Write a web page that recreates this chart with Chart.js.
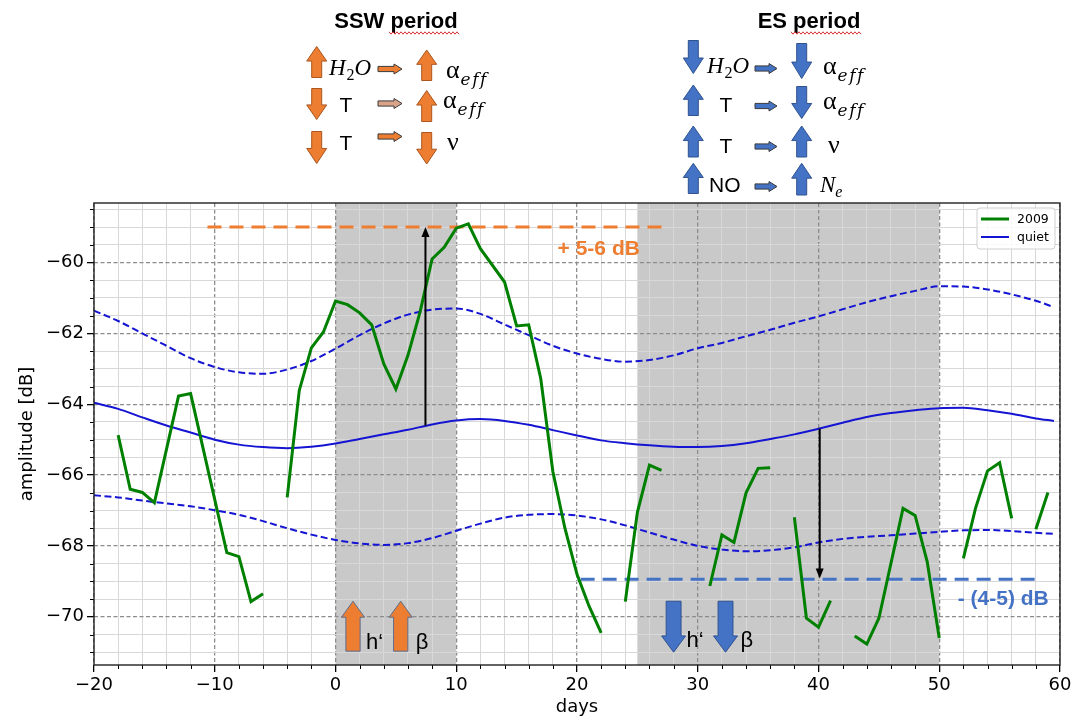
<!DOCTYPE html>
<html>
<head>
<meta charset="utf-8">
<script src="https://cdn.jsdelivr.net/npm/chart.js@4.4.1/dist/chart.umd.min.js"></script>
<style>
  html, body { margin: 0; padding: 0; background: #fff; }
</style>
</head>
<body>
<canvas id="chart" width="1087" height="717"></canvas>
<script>
// 2009 amplitudes per day (null = no data, line breaks there)
const days2009 = [-18, -17, -16, -15, -13, -12, -9, -8, -7, -6, -5,
  -4, -3, -2, -1, 0, 1, 2, 3, 4, 5, 6, 7, 8, 9, 10, 11, 12, 14, 15, 16, 17, 18, 19, 20, 21, 22, 23,
  24, 25, 26, 27, 28,
  31, 32, 33, 34, 35, 36, 37,
  38, 39, 40, 41, 42,
  43, 44, 45, 47, 48, 49, 50, 51,
  52, 53, 54, 55, 56, 57,
  58, 59];
const amp2009 = [-64.87, -66.40, -66.49, -66.78, -63.77, -63.70, -68.19, -68.30, -69.57, -69.35, null,
  -66.63, -63.61, -62.41, -61.96, -61.09, -61.19, -61.42, -61.76, -62.86, -63.57, -62.62, -61.40, -59.90, -59.57, -59.03, -58.91, -59.61, -60.55, -61.79, -61.76, -63.28, -65.90, -67.50, -68.80, -69.70, -70.45, null,
  -69.57, -67.05, -65.72, -65.87, null,
  -69.13, -67.69, -67.90, -66.50, -65.81, -65.79, null,
  -67.19, -70.04, -70.29, -69.54, null,
  -70.54, -70.77, -70.04, -66.94, -67.14, -68.44, -70.60, null,
  -68.35, -66.94, -65.88, -65.65, -67.22, null,
  -67.53, -66.49];

// quiet-day reference curve and its +/- spread
const quietDays = [-20, -18, -16, -14, -12, -10, -8, -6, -4, -2, 0, 2, 4, 6, 8, 10, 12, 14, 16, 18,
  20, 22, 24, 26, 28, 30, 32, 34, 36, 38, 40, 42, 44, 46, 48, 50, 52, 54, 56, 58, 59.5];
const quietMean = [-63.96, -64.13, -64.37, -64.60, -64.80, -65.00, -65.14, -65.21, -65.24, -65.20,
  -65.11, -64.98, -64.85, -64.72, -64.57, -64.46, -64.42, -64.47, -64.58, -64.73,
  -64.88, -65.02, -65.10, -65.16, -65.20, -65.21, -65.18, -65.10, -64.98, -64.85,
  -64.69, -64.52, -64.36, -64.25, -64.17, -64.11, -64.10, -64.17, -64.27, -64.40, -64.47];
const quietUpper = [-61.36, -61.65, -62.00, -62.35, -62.70, -62.95, -63.10, -63.14, -63.02, -62.78,
  -62.43, -62.05, -61.72, -61.47, -61.33, -61.30, -61.45, -61.75, -62.05, -62.35,
  -62.57, -62.72, -62.80, -62.75, -62.62, -62.42, -62.27, -62.08, -61.90, -61.70,
  -61.52, -61.32, -61.12, -60.95, -60.80, -60.67, -60.68, -60.76, -60.90, -61.08, -61.26];
const quietLower = [-66.57, -66.63, -66.72, -66.80, -66.88, -66.99, -67.12, -67.30, -67.50, -67.68,
  -67.83, -67.93, -67.97, -67.92, -67.78, -67.57, -67.37, -67.20, -67.12, -67.10,
  -67.14, -67.25, -67.42, -67.62, -67.82, -68.00, -68.10, -68.15, -68.12, -68.04,
  -67.90, -67.80, -67.74, -67.70, -67.65, -67.60, -67.56, -67.55, -67.58, -67.63, -67.66];

// shaded periods (days)
const sswSpan = [0, 10];
const esSpan = [25, 50];

// annotation levels
const sswLevelDays = [-10.6, 27.5];
const sswLevel = -59.0;
const esLevelDays = [20.3, 58.5];
const esLevel = -68.94;
const gainArrow = [7.45, -64.6, -59.0];   // day, from, to
const lossArrow = [40.1, -64.69, -68.92];
const sswMarkDays = [1.45, 5.4];
const esMarkDays = [28.0, 32.3];
const markRange = [-70.97, -69.56];
const sswText = ['+ 5-6 dB', 21.8, -59.63];
const esText = ['- (4-5) dB', 55.3, -69.5];

const xRange = [-20, 60];
const yRange = [-71.36, -58.32];

const ORANGE = '#ED7D31', ORANGE_EDGE = '#A9561F';
const BLUE = '#4472C4', BLUE_EDGE = '#2F528F';
const QUIET = '#1414d2';

const pts = (xs, ys) => xs.map((x, i) => ({x: x, y: ys[i]}));
const isMult = (v, m) => Math.abs(v / m - Math.round(v / m)) < 1e-6;
const fmt = v => String(Math.round(v)).replace('-', '\u2212');

function blockArrow(ctx, cx, tail, tip, w, shaft, head, fill, stroke) {
  const dir = Math.sign(tip - tail);
  const neck = tip - dir * Math.abs(tip - tail) * head;
  ctx.beginPath();
  ctx.moveTo(cx - w * shaft / 2, tail);
  ctx.lineTo(cx - w * shaft / 2, neck);
  ctx.lineTo(cx - w / 2, neck);
  ctx.lineTo(cx, tip);
  ctx.lineTo(cx + w / 2, neck);
  ctx.lineTo(cx + w * shaft / 2, neck);
  ctx.lineTo(cx + w * shaft / 2, tail);
  ctx.closePath();
  ctx.fillStyle = fill;
  ctx.fill();
  ctx.lineWidth = 1;
  ctx.strokeStyle = stroke;
  ctx.stroke();
}

function smallArrow(ctx, x0, x1, cy, fill) {
  const h = 2.6, hh = 5, hl = 8;
  ctx.beginPath();
  ctx.moveTo(x0, cy - h);
  ctx.lineTo(x1 - hl, cy - h);
  ctx.lineTo(x1 - hl, cy - hh);
  ctx.lineTo(x1, cy);
  ctx.lineTo(x1 - hl, cy + hh);
  ctx.lineTo(x1 - hl, cy + h);
  ctx.lineTo(x0, cy + h);
  ctx.closePath();
  ctx.fillStyle = fill;
  ctx.fill();
  ctx.lineWidth = 1;
  ctx.strokeStyle = '#3a3a3a';
  ctx.stroke();
}

function txt(ctx, s, x, y, font, color, align) {
  ctx.font = font;
  ctx.fillStyle = color || '#000';
  ctx.textAlign = align || 'left';
  ctx.textBaseline = 'alphabetic';
  ctx.fillText(s, x, y);
  return ctx.measureText(s).width;
}

function water(ctx, x, y) {
  let w = txt(ctx, 'H', x, y, 'italic 23px "Liberation Serif"');
  w += txt(ctx, '2', x + w + 1, y + 5, '16px "Liberation Serif"') + 1;
  txt(ctx, 'O', x + w, y, 'italic 23px "Liberation Serif"');
}

function alphaEff(ctx, x, y) {
  const w = txt(ctx, '\u03b1', x, y, '26px "Liberation Serif"');
  ctx.letterSpacing = '1.5px';
  txt(ctx, 'eff', x + w + 1, y + 7, 'italic 17px "DejaVu Serif"');
  ctx.letterSpacing = '0px';
}

function squiggle(ctx, x0, x1, y) {
  ctx.beginPath();
  for (let x = x0, k = 0; x <= x1; x += 2, k++) {
    const yy = y + (k % 2 ? 1.2 : -1.2);
    if (k === 0) ctx.moveTo(x, yy); else ctx.lineTo(x, yy);
  }
  ctx.lineWidth = 1;
  ctx.strokeStyle = '#d23030';
  ctx.stroke();
}

function drawHeader(ctx) {
  // SSW period
  txt(ctx, 'SSW period', 396, 28, 'bold 22px "Liberation Sans"', '#000', 'center');
  squiggle(ctx, 389, 460, 33);
  blockArrow(ctx, 316.7, 77.5, 46.5, 20, 0.5, 0.47, ORANGE, ORANGE_EDGE);
  water(ctx, 329, 75);
  smallArrow(ctx, 378, 402, 69, ORANGE);
  blockArrow(ctx, 426.7, 80.5, 50, 20, 0.5, 0.47, ORANGE, ORANGE_EDGE);
  alphaEff(ctx, 446, 78);

  blockArrow(ctx, 316.7, 88.5, 119.5, 20, 0.5, 0.47, ORANGE, ORANGE_EDGE);
  txt(ctx, 'T', 346, 111.5, '21px "Liberation Sans"', '#000', 'center');
  smallArrow(ctx, 378, 402, 103.5, '#D9A48A');
  blockArrow(ctx, 426.7, 121.5, 90.5, 20, 0.5, 0.47, ORANGE, ORANGE_EDGE);
  alphaEff(ctx, 443, 108);

  blockArrow(ctx, 316.7, 131.5, 163.5, 20, 0.5, 0.47, ORANGE, ORANGE_EDGE);
  txt(ctx, 'T', 346, 150, '21px "Liberation Sans"', '#000', 'center');
  smallArrow(ctx, 378, 402, 136.5, ORANGE);
  blockArrow(ctx, 426.7, 132.5, 164, 20, 0.5, 0.47, ORANGE, ORANGE_EDGE);
  txt(ctx, '\u03bd', 447, 150, '26px "Liberation Serif"');

  // ES period
  txt(ctx, 'ES period', 809, 28, 'bold 22px "Liberation Sans"', '#000', 'center');
  squiggle(ctx, 791, 861, 33);
  blockArrow(ctx, 693.3, 40.5, 73.5, 20, 0.5, 0.47, BLUE, BLUE_EDGE);
  water(ctx, 707, 73);
  smallArrow(ctx, 755, 777, 68.5, BLUE);
  blockArrow(ctx, 801.7, 43.5, 78.5, 20, 0.5, 0.47, BLUE, BLUE_EDGE);
  alphaEff(ctx, 823, 74);

  blockArrow(ctx, 693.3, 115.5, 85, 20, 0.5, 0.47, BLUE, BLUE_EDGE);
  txt(ctx, 'T', 726, 111.5, '21px "Liberation Sans"', '#000', 'center');
  smallArrow(ctx, 755, 777, 106, BLUE);
  blockArrow(ctx, 801.7, 86.5, 118.5, 20, 0.5, 0.47, BLUE, BLUE_EDGE);
  alphaEff(ctx, 823, 109);

  blockArrow(ctx, 693.3, 157, 126, 20, 0.5, 0.47, BLUE, BLUE_EDGE);
  txt(ctx, 'T', 726, 153, '21px "Liberation Sans"', '#000', 'center');
  smallArrow(ctx, 755, 777, 146.5, BLUE);
  blockArrow(ctx, 801.7, 157, 126, 20, 0.5, 0.47, BLUE, BLUE_EDGE);
  txt(ctx, '\u03bd', 828, 153, '26px "Liberation Serif"');

  blockArrow(ctx, 693.3, 193.5, 163.3, 20, 0.5, 0.47, BLUE, BLUE_EDGE);
  txt(ctx, 'NO', 709, 191.5, '21px "Liberation Sans"');
  smallArrow(ctx, 755, 777, 186.5, BLUE);
  blockArrow(ctx, 801.7, 195, 163.3, 20, 0.5, 0.47, BLUE, BLUE_EDGE);
  const w = txt(ctx, 'N', 820, 191.5, 'italic 23px "Liberation Serif"');
  txt(ctx, 'e', 820 + w, 196.5, 'italic 16px "Liberation Serif"');
}

const overlay = {
  id: 'overlay',
  beforeDraw(chart) {
    const {ctx, chartArea: a, scales: {x}} = chart;
    ctx.save();
    ctx.fillStyle = '#fff';
    ctx.fillRect(0, 0, chart.width, chart.height);
    ctx.fillStyle = '#c9c9c9';
    for (const s of [sswSpan, esSpan]) {
      const p0 = x.getPixelForValue(s[0]), p1 = x.getPixelForValue(s[1]);
      ctx.fillRect(p0, a.top, p1 - p0, a.bottom - a.top);
    }
    ctx.restore();
  },
  afterDatasetsDraw(chart) {
    const {ctx, scales: {x, y}} = chart;
    ctx.save();
    // black arrows from quiet level to the 2009 extremes
    for (const ar of [gainArrow, lossArrow]) {
      const px = x.getPixelForValue(ar[0]);
      const p0 = y.getPixelForValue(ar[1]), p1 = y.getPixelForValue(ar[2]);
      const dir = Math.sign(p1 - p0);
      ctx.beginPath();
      ctx.moveTo(px, p0);
      ctx.lineTo(px, p1 - dir * 8);
      ctx.lineWidth = 2;
      ctx.strokeStyle = '#000';
      ctx.stroke();
      ctx.beginPath();
      ctx.moveTo(px, p1);
      ctx.lineTo(px - 4, p1 - dir * 10);
      ctx.lineTo(px + 4, p1 - dir * 10);
      ctx.closePath();
      ctx.fillStyle = '#000';
      ctx.fill();
    }
    // dB labels
    ctx.textBaseline = 'middle';
    ctx.textAlign = 'center';
    ctx.font = 'bold 21px "Liberation Sans"';
    ctx.fillStyle = ORANGE;
    ctx.fillText(sswText[0], x.getPixelForValue(sswText[1]), y.getPixelForValue(sswText[2]));
    ctx.fillStyle = BLUE;
    ctx.fillText(esText[0], x.getPixelForValue(esText[1]), y.getPixelForValue(esText[2]));
    // h' and beta markers
    const lo = y.getPixelForValue(markRange[0]), hi = y.getPixelForValue(markRange[1]);
    const labels = ['h\u2018', '\u03b2'];
    sswMarkDays.forEach((d, i) => {
      const cx = x.getPixelForValue(d);
      blockArrow(ctx, cx, lo, hi, 23, 0.62, 0.32, ORANGE, '#5b6f8f');
      txt(ctx, labels[i], cx + (i ? 15 : 13), lo - 2, '22px "Liberation Sans"');
    });
    esMarkDays.forEach((d, i) => {
      const cx = x.getPixelForValue(d);
      blockArrow(ctx, cx, hi, lo + 1, 24, 0.62, 0.32, BLUE, BLUE_EDGE);
      txt(ctx, labels[i], cx + (i ? 15 : 13), lo - 4, '22px "Liberation Sans"');
    });
    ctx.restore();
  },
  afterDraw(chart) {
    const {ctx, chartArea: a, scales: {x, y}} = chart;
    ctx.save();
    // minor tick marks
    ctx.strokeStyle = '#000';
    ctx.lineWidth = 1;
    ctx.beginPath();
    for (const t of x.ticks) {
      if (isMult(t.value, 10)) continue;
      const px = Math.round(x.getPixelForValue(t.value)) + 0.5;
      ctx.moveTo(px, a.bottom);
      ctx.lineTo(px, a.bottom + 4);
    }
    for (const t of y.ticks) {
      if (isMult(t.value, 2)) continue;
      const py = Math.round(y.getPixelForValue(t.value)) + 0.5;
      ctx.moveTo(a.left, py);
      ctx.lineTo(a.left - 4, py);
    }
    ctx.stroke();
    // axes frame
    ctx.lineWidth = 1.4;
    ctx.strokeStyle = '#222';
    ctx.strokeRect(a.left, a.top, a.right - a.left, a.bottom - a.top);
    // legend
    const items = chart.data.datasets.filter(d => d.inLegend);
    const bx = a.right - 83, by = a.top + 5, bw = 78, bh = 41;
    ctx.fillStyle = 'rgba(255,255,255,0.85)';
    ctx.strokeStyle = '#cfcfcf';
    ctx.lineWidth = 1;
    ctx.beginPath();
    ctx.roundRect(bx, by, bw, bh, 3);
    ctx.fill();
    ctx.stroke();
    items.forEach((d, i) => {
      const ly = by + 11 + i * 18;
      ctx.beginPath();
      ctx.moveTo(bx + 4, ly);
      ctx.lineTo(bx + 32, ly);
      ctx.strokeStyle = d.borderColor;
      ctx.lineWidth = d.borderWidth;
      ctx.stroke();
      ctx.font = '12.5px "DejaVu Sans"';
      ctx.fillStyle = '#000';
      ctx.textAlign = 'left';
      ctx.textBaseline = 'middle';
      ctx.fillText(d.label, bx + 40, ly + 1);
    });
    drawHeader(ctx);
    ctx.restore();
  }
};

const lineBase = {pointRadius: 0, pointHoverRadius: 0, fill: false};

new Chart(document.getElementById('chart'), {
  type: 'line',
  data: {
    datasets: [
      Object.assign({label: '2009', data: pts(days2009, amp2009), borderColor: 'green',
        borderWidth: 3, spanGaps: false, inLegend: true}, lineBase),
      Object.assign({label: 'quiet', data: pts(quietDays, quietMean), borderColor: QUIET,
        borderWidth: 2, cubicInterpolationMode: 'monotone', inLegend: true}, lineBase),
      Object.assign({label: 'quiet upper', data: pts(quietDays, quietUpper), borderColor: QUIET,
        borderWidth: 2, borderDash: [7, 3.5], cubicInterpolationMode: 'monotone'}, lineBase),
      Object.assign({label: 'quiet lower', data: pts(quietDays, quietLower), borderColor: QUIET,
        borderWidth: 2, borderDash: [7, 3.5], cubicInterpolationMode: 'monotone'}, lineBase),
      Object.assign({label: 'SSW level', data: pts(sswLevelDays, [sswLevel, sswLevel]), borderColor: ORANGE,
        borderWidth: 3, borderDash: [14, 8]}, lineBase),
      Object.assign({label: 'ES level', data: pts(esLevelDays, [esLevel, esLevel]), borderColor: BLUE,
        borderWidth: 3, borderDash: [14, 8]}, lineBase)
    ]
  },
  options: {
    responsive: false,
    animation: false,
    events: [],
    layout: {padding: {top: 203, right: 27, left: 0, bottom: 0}},
    plugins: {legend: {display: false}, tooltip: {enabled: false}},
    scales: {
      x: {
        type: 'linear',
        min: xRange[0],
        max: xRange[1],
        afterBuildTicks: s => {
          s.ticks = [];
          for (let v = xRange[0]; v <= xRange[1] + 1e-9; v += 2) s.ticks.push({value: v});
        },
        afterFit: s => { s.height = 52; },
        ticks: {
          autoSkip: false, maxRotation: 0, padding: 3, color: '#000',
          font: {family: 'DejaVu Sans', size: 18},
          callback: v => isMult(v, 10) ? fmt(v) : ''
        },
        grid: {
          color: c => isMult(c.tick.value, 10) ? '#8c8c8c' : '#d8d8d8',
          lineWidth: c => isMult(c.tick.value, 10) ? 1.3 : 1,
          tickColor: c => isMult(c.tick.value, 10) ? '#000' : 'rgba(0,0,0,0)',
          tickLength: 7
        },
        border: {display: false, dash: c => isMult(c.tick.value, 10) ? [4, 2.5] : []},
        title: {display: true, text: 'days', color: '#000',
          font: {family: 'DejaVu Sans', size: 18, lineHeight: 1.1}, padding: {top: 0, bottom: 0}}
      },
      y: {
        type: 'linear',
        min: yRange[0],
        max: yRange[1],
        afterBuildTicks: s => {
          s.ticks = [];
          for (let v = Math.ceil(yRange[0] * 2) / 2; v <= yRange[1]; v += 0.5) s.ticks.push({value: v});
        },
        afterFit: s => { s.width = 94; },
        ticks: {
          autoSkip: false, padding: 3, color: '#000',
          font: {family: 'DejaVu Sans', size: 18},
          callback: v => isMult(v, 2) ? fmt(v) : ''
        },
        grid: {
          color: c => isMult(c.tick.value, 2) ? '#8c8c8c' : '#d8d8d8',
          lineWidth: c => isMult(c.tick.value, 2) ? 1.3 : 1,
          tickColor: c => isMult(c.tick.value, 2) ? '#000' : 'rgba(0,0,0,0)',
          tickLength: 7
        },
        border: {display: false, dash: c => isMult(c.tick.value, 2) ? [4, 2.5] : []},
        title: {display: true, text: 'amplitude [dB]', color: '#000',
          font: {family: 'DejaVu Sans', size: 18}, padding: {top: 17, bottom: 0}}
      }
    }
  },
  plugins: [overlay]
});
</script>
</body>
</html>
